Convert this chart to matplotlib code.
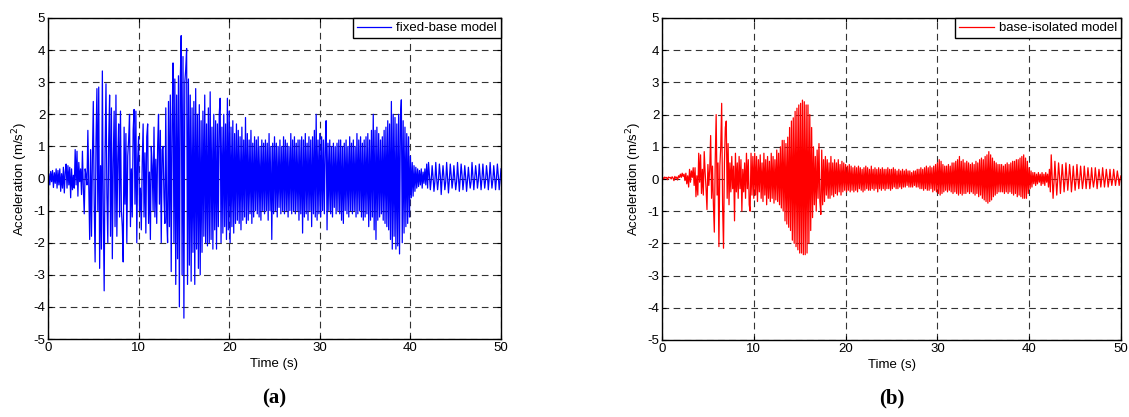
import numpy as np
import matplotlib
matplotlib.use("Agg")
import matplotlib.pyplot as plt

dt = 0.1
fixed_base = [
    0.00, 0.15, -0.20, 0.22, -0.10, 0.25, -0.28, 0.18, -0.15, 0.30,
    -0.30, 0.25, -0.20, 0.30, -0.40, 0.15, -0.30, 0.35, -0.45, 0.20,
    0.45, -0.30, 0.40, -0.20, 0.35, -0.60, 0.30, -0.35, 0.10, -0.30,
    0.90, -0.20, 0.85, -0.55, 0.50, -0.10, 0.30, -0.50, 0.85, -0.30,
    -1.10, 0.30, 0.10, -0.20, 1.50, -0.30, -1.90, 0.90, -1.80, 0.60,
    2.40, -0.80, -2.60, 1.20, 2.80, -1.00, 2.85, -2.80, 0.40, -2.20,
    3.35, -1.00, -3.50, 0.80, 2.95, -0.50, -2.00, 1.20, 2.60, -1.80,
    2.20, -2.50, 0.50, 2.10, -1.50, 2.60, -1.80, 0.60, 1.70, -1.20,
    2.10, -1.00, -1.50, -2.60, 1.60, -0.80, 1.40, -2.00, 0.70, 1.20,
    2.00, -1.50, 0.30, -1.20, 1.50, 2.15, -0.80, 2.10, -2.00, 0.60,
    1.30, -1.00, -0.30, -1.60, 0.50, 1.70, -1.20, 0.80, -1.70, 1.30,
    1.70, -1.40, 0.20, -1.90, 1.00, 0.40, -1.00, 1.60, -1.20, 0.60,
    -1.40, 1.00, 2.00, -0.80, 1.50, -2.00, 0.90, 1.00, -0.60, -1.40,
    2.20, -1.20, -2.00, 2.40, -1.50, 2.60, -2.90, 1.80, 3.60, -2.00,
    3.10, -3.30, 2.60, -2.50, 3.20, -4.00, 3.00, 4.45, -3.00, 3.80,
    -4.35, 3.00, 3.40, 4.05, -3.30, 3.10, -2.70, 2.60, -3.20, 2.20,
    -2.30, 2.40, -3.30, 2.80, -2.20, 2.00, -2.80, 2.30, -3.00, 1.80,
    -2.30, 2.10, -1.80, 2.60, -2.00, 1.70, -2.10, 2.20, -2.00, 2.70,
    -1.90, 1.60, -2.20, 2.00, -1.60, 1.80, -2.20, 1.70, -1.50, 2.00,
    2.50, -2.00, 1.60, -1.70, 2.00, -1.50, 1.70, -1.90, 2.50, -1.60,
    2.10, -2.00, 1.60, -1.50, 1.80, -1.70, 1.40, -1.40, 1.70, -1.30,
    1.50, -1.40, 1.30, -1.60, 1.60, -1.30, 1.20, -1.20, 1.90, -1.40,
    1.40, -1.30, 1.20, -1.10, 1.50, -1.40, 1.10, -1.20, 1.30, -1.00,
    1.20, -1.10, 1.30, -1.20, 1.00, -1.30, 1.20, -1.00, 1.10, -1.10,
    1.20, -1.00, 1.10, -1.30, 1.40, -1.00, 1.00, -1.90, 1.10, -1.10,
    1.30, -1.00, 1.10, -1.20, 1.00, -0.90, 1.20, -1.10, 1.00, -1.00,
    1.30, -1.10, 1.20, -1.00, 1.10, -1.20, 1.00, -1.00, 1.40, -1.10,
    1.20, -1.00, 1.30, -1.10, 1.10, -1.00, 1.20, -1.30, 1.20, -1.10,
    1.30, -1.70, 1.20, -1.20, 1.40, -1.10, 1.10, -1.30, 1.30, -1.00,
    1.20, -1.50, 1.30, -1.10, 1.50, -1.20, 2.00, -1.30, 1.20, -1.10,
    1.40, -1.20, 1.30, -1.00, 1.20, -1.10, 1.00, 1.80, -1.60, 1.10,
    -1.00, 1.20, -1.10, 1.00, -1.20, 1.10, -0.90, 1.00, -1.10, 1.10,
    -1.00, 1.20, -1.10, 1.20, -1.30, 1.00, -1.40, 1.10, -1.00, 1.20,
    -1.10, 1.00, -1.20, 1.30, -1.00, 1.10, -1.10, 1.20, -1.00, 1.00,
    -1.20, 1.40, -1.10, 1.20, -1.00, 1.30, -1.20, 1.10, -1.30, 1.20,
    -1.20, 1.30, -1.10, 1.40, -1.50, 1.20, -1.30, 1.50, -1.20, 2.00,
    -1.60, 1.50, -1.90, 1.60, -1.30, 1.40, -1.20, 1.20, -1.10, 1.30,
    -1.30, 1.50, -1.40, 1.60, -1.50, 1.80, -1.60, 1.70, -1.90, 2.40,
    -2.20, 2.00, -1.80, 1.90, -2.20, 1.70, -2.10, 2.00, -2.35, 1.90,
    2.45, -2.00, 1.80, -1.70, 1.60, -1.50, 1.40, -1.40, 1.30, -1.20,
    0.70, -0.60, 0.50, -0.55, 0.40, -0.40, 0.35, -0.30, 0.30, -0.25,
    0.25, -0.20, 0.30, -0.30, 0.20, -0.15, 0.30, -0.20, 0.45, -0.30,
    0.50, 0.10, -0.35, -0.05, 0.40, 0.05, -0.40, -0.10, 0.50, 0.00,
    -0.35, -0.05, 0.45, 0.10, -0.50, 0.00, 0.40, 0.05, -0.35, -0.10,
    0.50, 0.05, -0.45, -0.05, 0.45, 0.10, -0.30, -0.05, 0.40, 0.00,
    -0.35, -0.10, 0.50, 0.05, -0.40, 0.00, 0.45, 0.10, -0.35, -0.05,
    0.40, 0.05, -0.40, -0.05, 0.35, 0.00, -0.30, -0.10, 0.50, 0.05,
    -0.35, 0.00, 0.40, 0.10, -0.30, -0.05, 0.45, 0.05, -0.35, 0.00,
    0.45, 0.05, -0.30, -0.05, 0.40, 0.10, -0.35, 0.00, 0.50, 0.05,
    -0.30, -0.05, 0.40, 0.05, -0.35, 0.00, 0.45, 0.10, -0.35, -0.05,
    0.30,
]

base_isolated = [
    0.02, 0.05, 0.00, 0.06, 0.03, 0.05, -0.02, 0.06, 0.04, 0.05,
    0.00, 0.07, 0.03, -0.05, 0.08, 0.02, 0.06, -0.03, 0.10, 0.05,
    0.15, 0.05, 0.18, 0.08, 0.15, -0.05, 0.18, -0.15, 0.10, -0.25,
    0.30, -0.10, 0.25, 0.05, 0.35, -0.20, 0.35, -0.55, 0.10, -0.50,
    0.80, -0.10, 0.75, -0.45, 0.30, -0.50, 0.85, 0.20, -0.30, -0.95,
    0.45, -0.20, 0.30, 1.35, -0.60, 0.40, -0.80, -1.65, 0.60, 2.00,
    -0.50, 0.50, -2.10, 0.40, 1.00, 2.35, -0.80, -2.15, 0.50, 1.60,
    1.80, -0.60, 1.10, -0.80, 0.50, -0.40, 0.70, -0.30, 0.40, -1.30,
    0.80, -0.40, 0.50, -0.60, 0.70, -0.30, 0.60, -1.00, 0.30, -0.40,
    0.50, -0.60, 0.80, -0.30, 0.60, -0.80, -1.00, 0.80, -0.50, 0.70,
    -0.60, 0.80, -0.50, 0.70, -0.70, 0.60, -0.40, 0.75, -0.60, 0.50,
    -0.70, 0.80, -0.50, 0.60, -0.80, 0.70, -0.60, 0.55, -0.70, 0.80,
    -0.60, 0.70, -0.75, 0.60, -0.65, 0.90, -0.70, 0.80, -0.80, 1.00,
    -0.90, 1.20, -1.00, 1.20, -1.30, 1.10, -1.40, 1.30, -1.50, 1.60,
    -1.60, 1.80, -1.90, 1.90, -2.00, 2.10, -2.10, 2.20, -2.20, 2.30,
    -2.30, 2.35, -2.30, 2.45, -2.35, 2.40, -2.35, 2.30, -2.30, 2.30,
    -2.00, 2.00, -1.60, 1.60, -1.20, 1.00, -0.80, 0.70, -1.00, 0.90,
    -0.60, 1.10, -0.70, -1.10, 0.90, -0.80, 0.60, -0.70, 0.70, -0.50,
    0.60, -0.60, 0.50, -0.60, 0.70, -0.50, 0.50, -0.55, 0.60, -0.45,
    0.50, -0.50, 0.60, -0.40, 0.45, -0.50, 0.55, -0.40, 0.50, -0.35,
    0.45, -0.40, 0.40, -0.35, 0.45, -0.40, 0.40, -0.35, 0.35, -0.40,
    0.40, -0.35, 0.35, -0.40, 0.40, -0.30, 0.35, -0.35, 0.30, -0.40,
    0.35, -0.35, 0.40, -0.30, 0.35, -0.35, 0.30, -0.35, 0.40, -0.30,
    0.30, -0.35, 0.35, -0.30, 0.30, -0.40, 0.35, -0.30, 0.30, -0.35,
    0.35, -0.30, 0.30, -0.35, 0.30, -0.30, 0.35, -0.30, 0.30, -0.35,
    0.30, -0.30, 0.35, -0.25, 0.30, -0.30, 0.25, -0.30, 0.30, -0.25,
    0.25, -0.30, 0.30, -0.25, 0.25, -0.25, 0.30, -0.20, 0.25, -0.25,
    0.25, -0.25, 0.20, -0.25, 0.25, -0.20, 0.25, -0.25, 0.30, -0.25,
    0.30, -0.30, 0.35, -0.30, 0.30, -0.35, 0.35, -0.30, 0.40, -0.35,
    0.35, -0.35, 0.40, -0.30, 0.35, -0.40, 0.40, -0.35, 0.45, -0.40,
    0.50, -0.45, 0.60, -0.50, 0.55, -0.45, 0.45, -0.40, 0.40, -0.35,
    0.40, -0.40, 0.45, -0.35, 0.40, -0.40, 0.50, -0.45, 0.50, -0.40,
    0.55, -0.45, 0.60, -0.50, 0.70, -0.45, 0.55, -0.50, 0.60, -0.45,
    0.50, -0.45, 0.55, -0.40, 0.50, -0.45, 0.45, -0.40, 0.50, -0.45,
    0.45, -0.50, 0.55, -0.45, 0.50, -0.55, 0.60, -0.50, 0.65, -0.60,
    0.60, -0.65, 0.70, -0.70, 0.75, -0.75, 0.85, -0.70, 0.75, -0.65,
    0.65, -0.55, 0.55, -0.50, 0.50, -0.45, 0.45, -0.40, 0.45, -0.40,
    0.45, -0.40, 0.40, -0.45, 0.45, -0.40, 0.50, -0.45, 0.45, -0.40,
    0.50, -0.45, 0.55, -0.50, 0.55, -0.45, 0.60, -0.55, 0.60, -0.50,
    0.65, -0.55, 0.70, -0.60, 0.75, -0.60, 0.65, -0.60, 0.55, -0.45,
    0.35, -0.30, 0.25, -0.25, 0.20, -0.15, 0.20, -0.20, 0.15, -0.15,
    0.20, -0.10, 0.15, -0.20, 0.20, -0.15, 0.15, -0.20, 0.20, -0.10,
    0.15, -0.25, 0.30, -0.40, 0.75, 0.10, -0.60, -0.10, 0.55, 0.05,
    -0.50, -0.05, 0.50, 0.10, -0.45, 0.00, 0.45, 0.05, -0.40, -0.05,
    0.50, 0.05, -0.35, 0.00, 0.45, 0.10, -0.40, -0.05, 0.40, 0.00,
    -0.35, -0.05, 0.45, 0.05, -0.30, 0.00, 0.40, 0.05, -0.30, -0.05,
    0.40, 0.05, -0.30, 0.00, 0.35, 0.05, -0.30, -0.05, 0.35, 0.00,
    -0.25, -0.05, 0.35, 0.05, -0.30, 0.00, 0.30, 0.05, -0.25, 0.00,
    0.35, 0.05, -0.25, 0.00, 0.30, 0.05, -0.25, -0.05, 0.30, 0.00,
    -0.20, 0.00, 0.30, 0.05, -0.20, 0.00, 0.25, 0.05, -0.20, 0.00,
    0.10,
]

x_ticks = [0, 10, 20, 30, 40, 50]
y_ticks = [-5, -4, -3, -2, -1, 0, 1, 2, 3, 4, 5]
panels = [
    (fixed_base, "blue", "fixed-base model", "(a)"),
    (base_isolated, "red", "base-isolated model", "(b)"),
]

# ---------------- figure ----------------
plt.rcParams["font.family"] = ["Liberation Sans", "DejaVu Sans"]
plt.rcParams["axes.unicode_minus"] = False
W, H = 1129, 417
fig = plt.figure(figsize=(W / 100, H / 100), dpi=100)

rects = [(48, 18, 501, 339), (662, 18, 1121, 340)]

for (vals, col, lab, tag), (x0, y0, x1, y1) in zip(panels, rects):
    ax = fig.add_axes([x0 / W, 1 - y1 / H, (x1 - x0) / W, (y1 - y0) / H])
    t = np.arange(len(vals)) * dt
    ax.plot(t, vals, color=col, lw=0.9, label=lab)
    ax.set_xlim(0, 50)
    ax.set_ylim(-5, 5)
    ax.set_xticks(x_ticks)
    ax.set_yticks(y_ticks)
    ax.grid(True, color="#333333", linestyle=(0, (6, 4)), linewidth=0.8)
    ax.tick_params(direction="in", length=3, width=0.8, labelsize=9.5,
                   top=True, right=True, pad=2, colors="black")
    for s in ax.spines.values():
        s.set_linewidth(1.0)
    ax.set_xlabel("Time (s)", fontsize=9.5, labelpad=3)
    ax.set_ylabel("Acceleration (m/s$^2$)", fontsize=9.5, labelpad=2)
    leg = ax.legend(loc="upper right", borderaxespad=0, fontsize=9.5,
                    handlelength=2.6, handletextpad=0.4, borderpad=0.3,
                    fancybox=False, framealpha=1, edgecolor="black")
    leg.get_frame().set_linewidth(1.0)
    cx = (x0 + x1) / 2 / W
    fig.text(cx, 1 - 398 / H, tag, ha="center", va="center", fontsize=15,
             fontweight="bold", family=["Liberation Serif", "DejaVu Serif"])

fig.savefig("out.png", dpi=100)
